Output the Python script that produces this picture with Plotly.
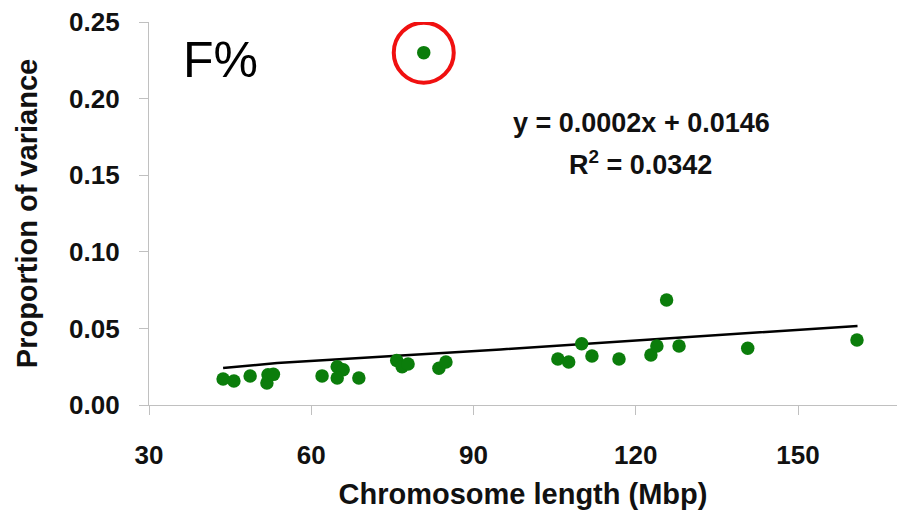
import plotly.graph_objects as go

# Chromosome length (Mbp) vs proportion of variance
chrom_len = [43.7, 45.7, 48.7, 51.8, 52.0, 53.0, 62.0, 64.8, 65.9, 64.8, 68.8,
             75.8, 76.8, 77.9, 83.6, 84.9, 105.6, 107.6, 110.0, 111.9, 116.9,
             122.8, 123.9, 125.7, 128.0, 140.7, 160.9]
prop_var = [0.017, 0.0157, 0.0189, 0.0144, 0.0198, 0.0200, 0.019, 0.025, 0.023,
            0.0176, 0.0176, 0.029, 0.025, 0.0267, 0.024, 0.028, 0.030, 0.028,
            0.040, 0.032, 0.030, 0.0326, 0.0385, 0.0685, 0.0385, 0.037, 0.0424]

outlier_len = [80.8]
outlier_var = [0.230]

trend_len = [43.7, 53.7, 95.0, 140.0, 161.0]
trend_var = [0.0241, 0.0274, 0.0363, 0.0470, 0.0516]

x_ticks = [30, 60, 90, 120, 150]
y_ticks = [0.00, 0.05, 0.10, 0.15, 0.20, 0.25]

FONT = "Liberation Sans, Arial, sans-serif"
GREEN = "#0b7d0b"

fig = go.Figure()
fig.add_trace(go.Scatter(x=trend_len, y=trend_var, mode="lines",
                         line=dict(color="black", width=2.5), hoverinfo="skip"))
fig.add_trace(go.Scatter(x=chrom_len, y=prop_var, mode="markers",
                         marker=dict(color=GREEN, size=13.5)))
fig.add_trace(go.Scatter(x=outlier_len, y=outlier_var, mode="markers",
                         marker=dict(color=GREEN, size=13.5)))
fig.add_trace(go.Scatter(x=outlier_len, y=outlier_var, mode="markers",
                         marker=dict(symbol="circle-open", size=60,
                                     line=dict(color="#f01010", width=4),
                                     color="#f01010")))

axis_common = dict(showgrid=False, zeroline=False, showline=True,
                   linecolor="#c0c0c0", linewidth=1.2, ticks="outside",
                   ticklen=9, tickcolor="#c0c0c0", tickwidth=1.2,
                   tickfont=dict(family=FONT, size=26, color="#111", weight="bold"),
                   title_font=dict(family=FONT, size=29, color="#111", weight="bold"))

fig.update_layout(
    width=897, height=515,
    margin=dict(l=149, r=0, t=22, b=110),
    paper_bgcolor="white", plot_bgcolor="white",
    showlegend=False,
    xaxis=dict(range=[30, 168.3], tickvals=x_ticks,
               ticktext=[str(v) for v in x_ticks],
               title=dict(text="Chromosome length (Mbp)", standoff=14),
               ticklabelstandoff=18, **axis_common),
    yaxis=dict(range=[0, 0.25], tickvals=y_ticks,
               ticktext=[f"{v:.2f}" for v in y_ticks],
               title=dict(text="Proportion of variance", standoff=22),
               ticklabelstandoff=14, **axis_common),
    annotations=[
        dict(xref="paper", yref="paper", x=0.096, y=0.901, text="F%",
             xanchor="center", yanchor="middle", showarrow=False,
             font=dict(family=FONT, size=50, color="black")),
        dict(xref="paper", yref="paper", x=0.658, y=0.736,
             xanchor="center", yanchor="middle",
             text="y = 0.0002x + 0.0146", showarrow=False,
             font=dict(family=FONT, size=27, color="#111", weight="bold")),
        dict(xref="paper", yref="paper", x=0.657, y=0.632,
             xanchor="center", yanchor="middle",
             text="R<sup>2</sup> = 0.0342", showarrow=False,
             font=dict(family=FONT, size=27, color="#111", weight="bold")),
    ],
)

fig.write_html("out.html")
